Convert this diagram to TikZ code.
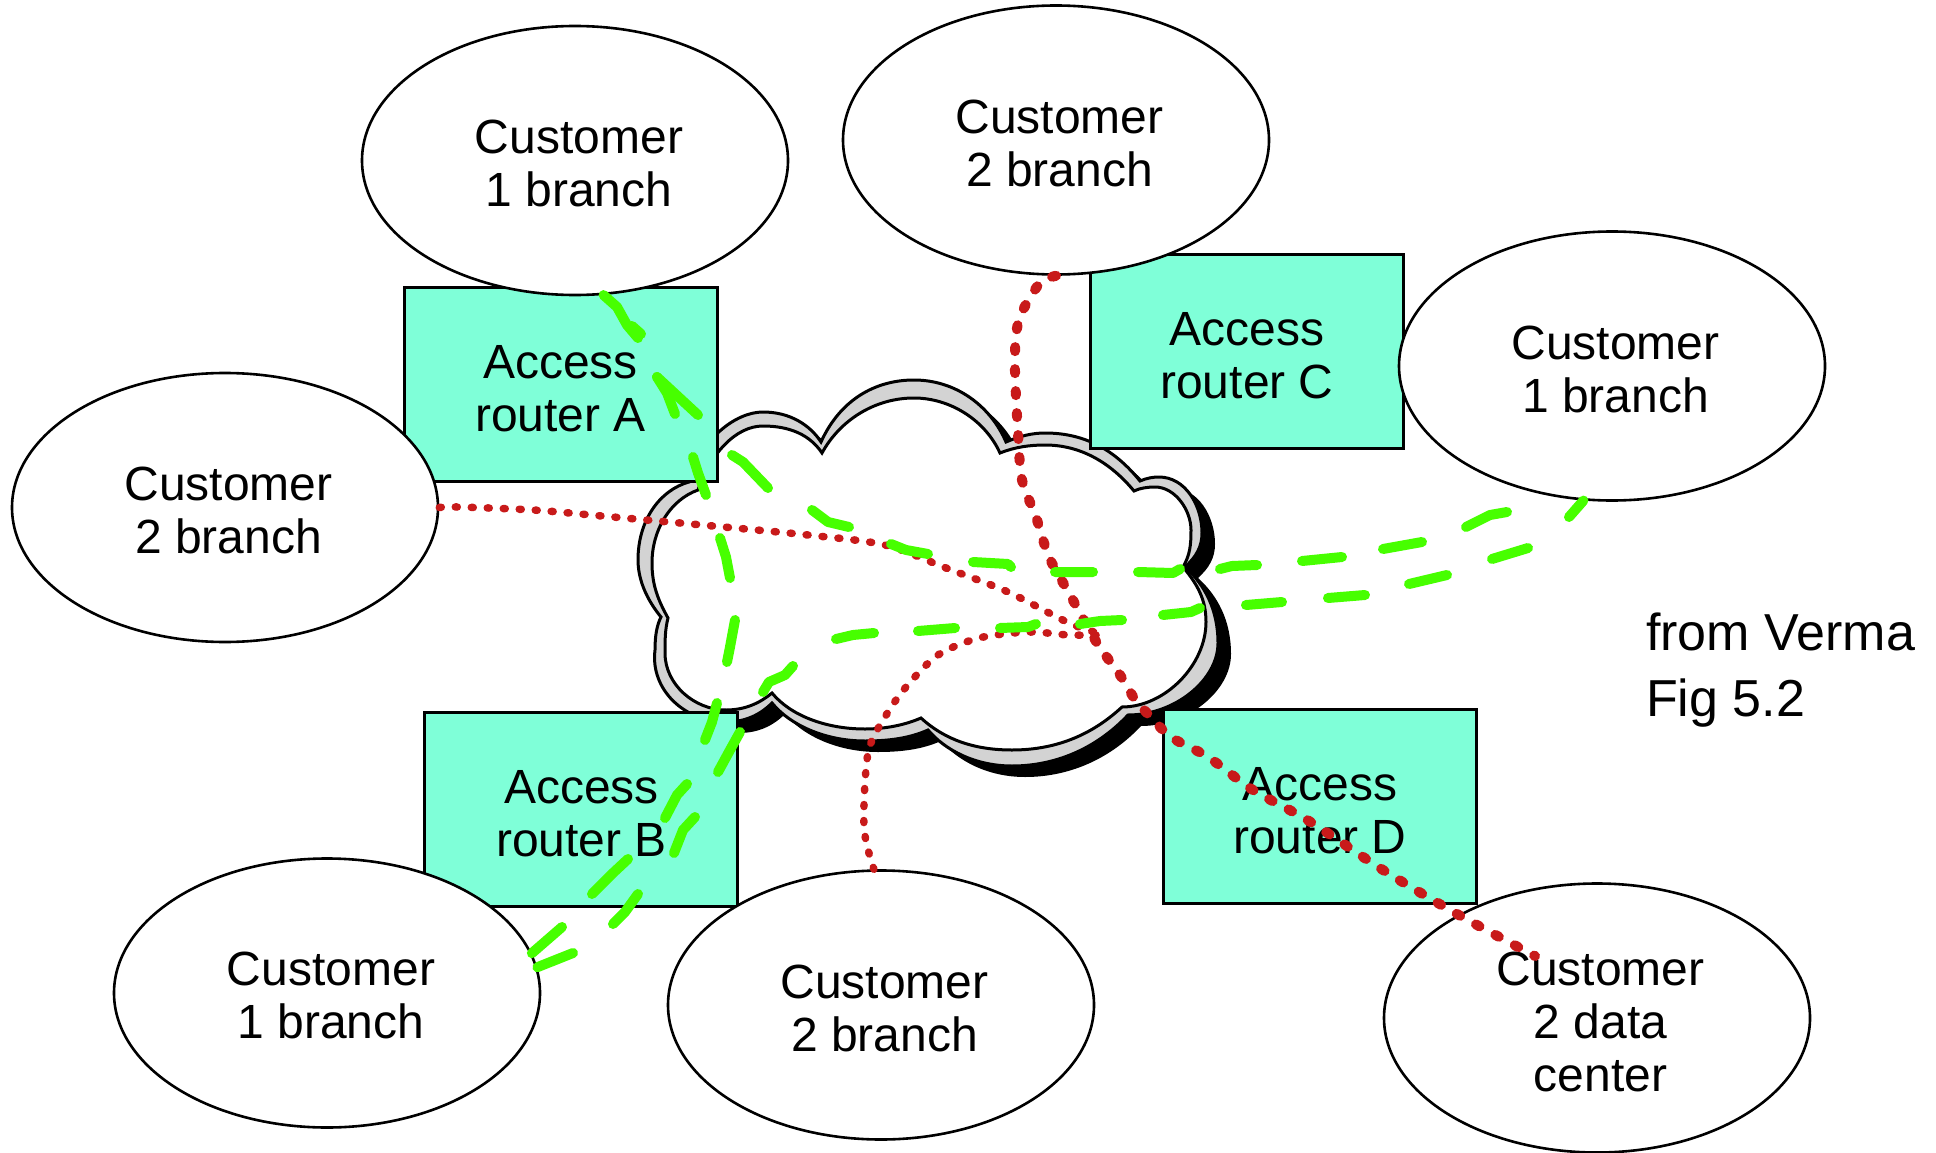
\documentclass[tikz,border=0pt]{standalone}
\usepackage{fontspec}
\setmainfont{Liberation Sans}
\usetikzlibrary{shapes.geometric}
\definecolor{boxfill}{HTML}{7FFFD8}
\definecolor{cloudgray}{HTML}{D3D3D3}
\definecolor{gdash}{HTML}{47FF00}
\definecolor{rdash}{HTML}{C81A1A}
\newcommand{\cloudouter}{(821,442) .. controls (840,400) and (875,380) .. (914,380) .. controls (955,380) and (990,405) .. (1006,442)
 .. controls (1020,436) and (1032,433) .. (1045,433) .. controls (1085,433) and (1115,450) .. (1140,481)
 .. controls (1147,478) and (1153,477) .. (1159,477) .. controls (1185,477) and (1202,505) .. (1202,533)
 .. controls (1202,547) and (1196,557) .. (1185,567)
 .. controls (1205,585) and (1218,610) .. (1218,643)
 .. controls (1218,680) and (1175,715) .. (1128,715)
 .. controls (1100,745) and (1060,766) .. (1012,766)
 .. controls (975,766) and (945,750) .. (928,730)
 .. controls (910,738) and (890,741) .. (865,741)
 .. controls (825,741) and (790,725) .. (772,703)
 .. controls (760,715) and (745,722) .. (726,722)
 .. controls (685,722) and (650,690) .. (655,650)
 .. controls (655,635) and (657,625) .. (661,617)
 .. controls (647,600) and (638,580) .. (638,560)
 .. controls (638,520) and (660,490) .. (689,482)
 .. controls (700,440) and (735,412) .. (763,412)
 .. controls (790,412) and (810,425) .. (821,442) -- cycle}
\newcommand{\cloudinner}{(822,453) .. controls (840,420) and (875,398) .. (914,398) .. controls (950,398) and (985,420) .. (1000,453)
 .. controls (1015,447) and (1030,445) .. (1045,445) .. controls (1080,445) and (1110,462) .. (1134,491)
 .. controls (1140,488) and (1148,487) .. (1155,487) .. controls (1175,487) and (1191,510) .. (1191,530)
 .. controls (1191,545) and (1190,555) .. (1183,567)
 .. controls (1198,585) and (1206,600) .. (1206,622)
 .. controls (1206,665) and (1165,707) .. (1122,707)
 .. controls (1095,732) and (1060,750) .. (1012,750)
 .. controls (975,750) and (945,740) .. (921,718)
 .. controls (905,725) and (885,729) .. (865,729)
 .. controls (825,729) and (790,715) .. (772,693)
 .. controls (760,703) and (745,710) .. (726,710)
 .. controls (695,710) and (665,685) .. (665,653)
 .. controls (665,640) and (665,630) .. (668,618)
 .. controls (658,600) and (652,585) .. (652,563)
 .. controls (652,530) and (670,500) .. (698,490)
 .. controls (710,455) and (735,426) .. (763,426)
 .. controls (790,426) and (810,435) .. (822,453) -- cycle}
\tikzset{
 custnode/.style={ellipse,draw=black,fill=white,line width=2.6pt,minimum width=426pt,minimum height=269pt,inner sep=0pt},
 routernode/.style={rectangle,draw=black,fill=boxfill,line width=3pt,minimum width=313pt,minimum height=194pt,inner sep=0pt},
 lab/.style={font=\fontsize{48}{53}\selectfont,align=center,inner sep=0pt,text=black},
 note/.style={font=\fontsize{52}{66}\selectfont,align=left,inner sep=0pt,text=black,anchor=west},
 gline/.style={draw=gdash,line width=10pt,line cap=round,line join=round},
 rthin/.style={draw=rdash,line width=7.5pt,line cap=round,line join=round,dash pattern=on 2pt off 14pt},
 rthick/.style={draw=rdash,line width=10pt,line cap=round,line join=round,dash pattern=on 4pt off 18pt}
}
\begin{document}
\begin{tikzpicture}[x=1pt,y=-1pt]
\useasboundingbox (0,0) rectangle (1936,1153);
\fill[white] (0,0) rectangle (1936,1153);
% cloud
\begin{scope}[shift={(13,11)}]
\fill[black] \cloudouter;
\end{scope}
\draw[fill=cloudgray,line width=3pt,line join=miter] \cloudouter;
\draw[fill=white,line width=3pt,line join=miter] \cloudinner;
% routers
\node[routernode] (ra) at (560.5,384) {};
\node[routernode] (rc) at (1247,351) {};
\node[routernode] (rb) at (580.5,809) {};
\node[routernode] (rd) at (1319.5,806) {};
% customers
\node[custnode] (ca) at (575,160.5) {};
\node[custnode] (cb) at (1056,140) {};
\node[custnode] (cc) at (1612,366) {};
\node[custnode] (cl) at (225,507.5) {};
\node[custnode] (ce) at (327,993) {};
\node[custnode] (cf) at (881,1005) {};
\node[custnode] (dc) at (1597,1018) {};
% labels
\node[lab] (tra) at (560.5,388.5) {Access\\router A};
\node[lab] (trc) at (1247,356) {Access\\router C};
\node[lab] (trb) at (581.5,813.5) {Access\\router B};
\node[lab] (trd) at (1320,810.5) {Access\\router D};
\node[lab] (tca) at (579,163.5) {Customer\\1 branch};
\node[lab] (tcb) at (1059.5,143.5) {Customer\\2 branch};
\node[lab] (tcc) at (1615.5,369.5) {Customer\\1 branch};
\node[lab] (tcl) at (228.5,510) {Customer\\2 branch};
\node[lab] (tce) at (331,995) {Customer\\1 branch};
\node[lab] (tcf) at (884.5,1008) {Customer\\2 branch};
\node[lab] (tdc) at (1600.5,1022) {Customer\\2 data\\center};
\node[note] (src) at (1646,670.5) {from Verma\\Fig 5.2};
% free ends
\coordinate (hub) at (1104,635);
\coordinate (dcend) at (1535,956);
\coordinate (gfree) at (1507,512);
% red connectors
\draw[rthin] plot[smooth] coordinates {(cl.east) (457,507) (533,510) (613,517) (702,525) (808,535) (885,545) (946,568) (1008,592) (1069,623) (hub)};
\draw[rthin] plot[smooth] coordinates {(cf.93) (864,827) (868,753) (885,717) (906,687) (938,655) (979,638) (1028,632) (1069,635) (hub)};
\draw[rthick] plot[smooth] coordinates {(cb.-90) (1040,283) (1022,312) (1016,335) (1015,372) (1018,433) (1022,480) (1036,517) (1049,557) (1069,593) (1097,643) (1120,675) (1134,698) (1146,712) (1171,737) (1208,757) (1253,790) (1309,821) (1383,870) (1457,914) (dcend)};
% green: Customer 1 top to Customer 1 right
\draw[gline] (ca.-78) -- (617,307) -- (627,325) -- (638,338) (632,326) -- (641,334)
 (657,377) -- (698,415)
 (732,455) -- (743,462) -- (768,488)
 (812,510) -- (828,522) -- (849,527)
 (891,544) -- (906,550) -- (928,554)
 (973,562) -- (1008,564) -- (1011,567)
 (1055,572) -- (1093,572)
 (1138,572) -- (1173,573) -- (1180,569)
 (1220,569) -- (1232,566) -- (1257,565)
 (1302,561) -- (1342,557)
 (1383,549) -- (1422,542)
 (1466,527) -- (1490,515) -- (gfree);
% green: fork down to Customer 1 bottom left
\draw[gline] (657,377) -- (667,393) -- (675,414)
 (693,457) -- (698,473) -- (706,495)
 (720,538) -- (726,557) -- (730,578)
 (735,620) -- (730,647) -- (727,662)
 (717,703) -- (712,722) -- (705,740)
 (687,784) -- (677,795) -- (665,818)
 (628,859) -- (613,873) -- (592,894)
 (562,927) -- (ce.11);
% green: Customer 1 bottom left to Customer 1 right
\draw[gline] (ce.7) -- (573,953)
 (638,894) -- (625,912) -- (613,924)
 (695,817) -- (683,830) -- (674,853)
 (740,732) -- (730,750) -- (718,772)
 (793,666) -- (785,675) -- (769,682) -- (763,692)
 (836,639) -- (853,635) -- (874,633)
 (918,631) -- (955,628)
 (1000,628) -- (1028,627) -- (1036,624)
 (1080,624) -- (1100,621) -- (1122,620)
 (1163,615) -- (1191,612) -- (1200,608)
 (1246,605) -- (1282,602)
 (1328,598) -- (1365,595)
 (1409,584) -- (1447,575)
 (1492,559) -- (1528,548)
 (1569,517) -- (cc.-102);
\end{tikzpicture}
\end{document}
